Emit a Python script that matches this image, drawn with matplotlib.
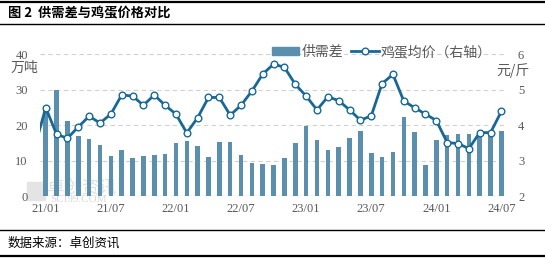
import numpy as np
import matplotlib
matplotlib.use('Agg')
from matplotlib import pyplot as plt
from matplotlib.lines import Line2D
from matplotlib.patches import Patch, Rectangle

plt.rcParams['font.family'] = ['Noto Sans CJK SC', 'DejaVu Sans']

# 月份 21/01 - 24/07
months = ['21/01', '21/02', '21/03', '21/04', '21/05', '21/06', '21/07', '21/08', '21/09', '21/10',
          '21/11', '21/12', '22/01', '22/02', '22/03', '22/04', '22/05', '22/06', '22/07', '22/08',
          '22/09', '22/10', '22/11', '22/12', '23/01', '23/02', '23/03', '23/04', '23/05', '23/06',
          '23/07', '23/08', '23/09', '23/10', '23/11', '23/12', '24/01', '24/02', '24/03', '24/04',
          '24/05', '24/06', '24/07']
tick_labels = ['21/01', '21/07', '22/01', '22/07', '23/01', '23/07', '24/01', '24/07']

# 供需差（万吨）
gap = [24.7, 30.0, 21.1, 17.0, 16.1, 14.5, 11.4, 13.0, 10.7, 11.3,
       11.6, 11.9, 14.9, 15.5, 14.2, 11.0, 15.2, 15.2, 11.5, 9.3,
       9.0, 8.7, 10.7, 14.9, 19.7, 15.8, 13.0, 13.8, 16.3, 18.3,
       12.1, 11.0, 12.4, 22.3, 18.0, 8.8, 15.8, 17.2, 17.5, 17.5,
       17.5, 17.7, 18.3]

# 鸡蛋均价（元/斤），第一个值为 20/12
price_prev = 3.4
price = [4.49, 3.74, 3.63, 3.95, 4.25, 4.06, 4.31, 4.85, 4.82, 4.56,
         4.85, 4.56, 4.31, 3.78, 4.21, 4.78, 4.78, 4.28, 4.56, 4.96,
         5.44, 5.72, 5.63, 5.15, 4.82, 4.43, 4.80, 4.69, 4.43, 4.14,
         4.26, 5.17, 5.43, 4.68, 4.49, 4.31, 4.13, 3.51, 3.48, 3.34,
         3.79, 3.79, 4.39]

bar_color = '#5a90ad'
line_color = '#176894'
gray = '#595959'

x = np.arange(len(months))

fig = plt.figure(figsize=(5.45, 2.58), dpi=100)

# 水印（在图表下层）
fig.add_artist(Rectangle((27 / 545, 1 - 200 / 258), 18 / 545, 18 / 258, color='#e4e4e4', zorder=-1))
fig.text(47 / 545, 1 - 187 / 258, '卓创资讯', fontsize=12.5, color='#e0e0e0', ha='left', va='center', zorder=-1)
fig.text(50 / 545, 1 - 199 / 258, 'SCI99.COM', fontsize=8, color='#d8d8d8', ha='left', va='center',
         family='Liberation Serif', zorder=-1)

ax = fig.add_axes([0.074, 0.240, 0.856, 0.550])
ax.patch.set_alpha(0)
ax2 = ax.twinx()

ax.bar(x, gap, width=0.42, color=bar_color, zorder=2)

# 折线（含前一月，用于左端延伸）
ax2.plot(np.r_[-1, x], [price_prev] + price, color=line_color, lw=2.0, zorder=3, clip_on=True)
ax2.plot(x, price, ls='none', marker='o', ms=4.8, mfc='white', mec=line_color, mew=1.0, zorder=4)

ax.set_xlim(-0.5, len(months) - 0.5)
ax.set_ylim(0, 40)
ax2.set_ylim(2, 6)
ax.set_yticks([0, 10, 20, 30, 40])
ax2.set_yticks([2, 3, 4, 5, 6])
ax.set_xticks([months.index(t) for t in tick_labels])
ax.set_xticklabels(tick_labels)

ax.grid(axis='y', color='#d0d0d0', ls=(0, (4, 3)), lw=0.8, zorder=0)
ax.set_axisbelow(True)
for a in (ax, ax2):
    for s in a.spines.values():
        s.set_visible(False)
    a.tick_params(length=0, colors=gray, labelsize=9)
    for lab in a.get_xticklabels() + a.get_yticklabels():
        lab.set_family(['Liberation Serif', 'DejaVu Serif'])
ax.axhline(0, color='#d9d9d9', lw=1.0, zorder=1)
ax.tick_params(axis='x', pad=5)
ax.tick_params(axis='y', pad=9)
ax2.tick_params(axis='y', pad=8)

fig.text(11 / 545, 1 - 68 / 258, '万吨', fontsize=10, color=gray, ha='left', va='center')
fig.text(513 / 545, 1 - 71 / 258, '元/斤', fontsize=10, color=gray, ha='center', va='center')

# 图例
handles = [Patch(color=bar_color), Line2D([], [], color=line_color, lw=2.0, marker='o', ms=4.8,
                                          mfc='white', mec=line_color, mew=1.0)]
leg = fig.legend(handles, ['供需差', '鸡蛋均价（右轴）'], loc='center', bbox_to_anchor=(382 / 545, 1 - 52 / 258),
                 ncol=2, frameon=False, fontsize=10, handlelength=1.95, handleheight=0.55,
                 columnspacing=0.6, handletextpad=0.15, labelcolor=gray)

# 标题和来源
fig.add_artist(Line2D([0, 1], [1 - 2 / 258] * 2, color='black', lw=1.6))
fig.add_artist(Line2D([0, 1], [1 - 24 / 258] * 2, color='black', lw=1.0))
fig.text(8 / 545, 1 - 13 / 258, '图 2  供需差与鸡蛋价格对比', fontsize=9.5, fontweight='bold',
         ha='left', va='center', color='black')
fig.add_artist(Line2D([0, 1], [1 - 230 / 258] * 2, color='black', lw=1.0))
fig.add_artist(Line2D([0, 1], [1 - 256 / 258] * 2, color='black', lw=1.6))
fig.text(8 / 545, 1 - 243 / 258, '数据来源：卓创资讯', fontsize=9, ha='left', va='center', color='black')

fig.savefig('out.png', dpi=100)
